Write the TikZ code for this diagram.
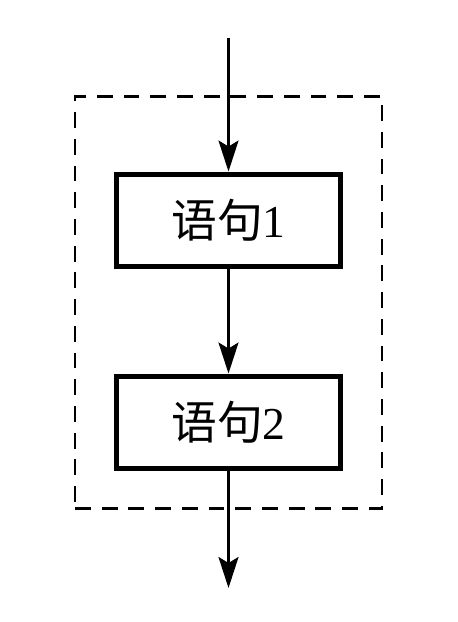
\documentclass[tikz,border=0pt]{standalone}
\usepackage{fontspec}
\setmainfont{Liberation Serif}
\newfontfamily\cjk{Noto Sans CJK SC}
\usetikzlibrary{arrows.meta,positioning}

\begin{document}
\begin{tikzpicture}[
      >={Stealth[length=0.62cm,width=0.4cm,inset=0.12cm]},
      stmt/.style={draw,line width=3.1pt,minimum width=4.47cm,minimum height=1.85cm,
                   inner sep=0pt,font=\fontsize{26}{30}\selectfont},
      flow/.style={->,line width=1.4pt},
      frame/.style={draw,line width=1.7pt,dash pattern=on 9pt off 6.2pt,
                    minimum width=6.14cm,minimum height=8.24cm}
    ]
    \useasboundingbox (0,0) rectangle (9.14,-12.44);
    \node[frame] (block) at (4.57,-6.05) {};
    \node[stmt] (first) at (4.57,-4.41) {{\cjk 语句}1};
    \node[stmt] (second) at (4.57,-8.45) {{\cjk 语句}2};
    \coordinate (entry) at (4.57,-0.76);
    \coordinate (exit) at (4.57,-11.76);
    \draw[flow] (entry) -- (first);
    \draw[flow] (first) -- (second);
    \draw[flow] (second) -- (exit);
  \end{tikzpicture}
\end{document}
